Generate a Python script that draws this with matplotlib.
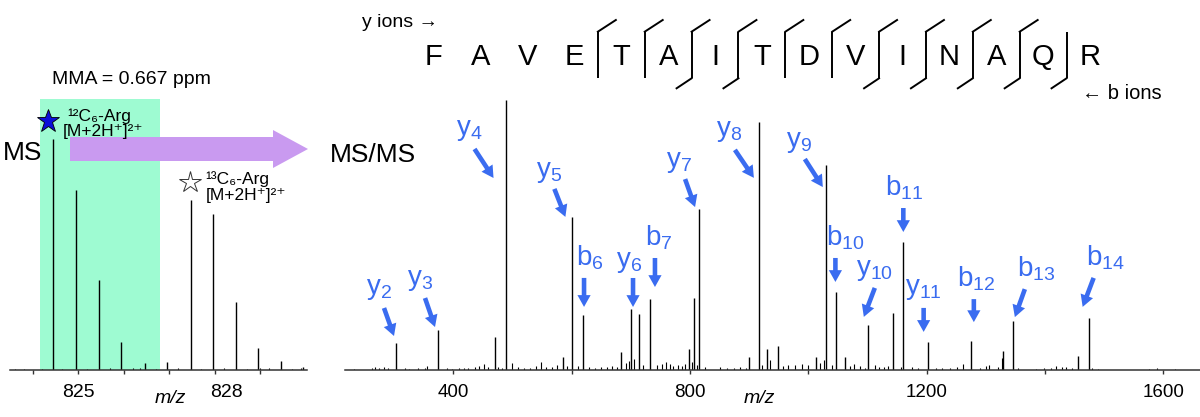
import numpy as np
import matplotlib
matplotlib.use("Agg")
import matplotlib.pyplot as plt
from matplotlib.patches import FancyArrow
from matplotlib.transforms import offset_copy, blended_transform_factory

plt.rcParams['font.family'] = ['Liberation Sans', 'DejaVu Sans']
plt.rcParams['mathtext.fontset'] = 'custom'
plt.rcParams['mathtext.rm'] = 'Liberation Sans'
plt.rcParams['mathtext.it'] = 'Liberation Sans:italic'
plt.rcParams['mathtext.bf'] = 'Liberation Sans:bold'

# ---- MS1: isotope envelopes of the light / heavy Arg peptide (2+) ----
ms1_light_mz = [824.45, 824.95, 825.45, 825.95, 826.46, 826.95]
ms1_light_int = [100, 77.9, 39.0, 12.1, 3.0, 3.3]
ms1_heavy_mz = [827.47, 827.96, 828.46, 828.95, 829.45, 829.95]
ms1_heavy_int = [73.6, 67.5, 29.4, 9.5, 3.9, 1.5]
ms1_noise_mz = [823.6, 823.8, 824.2, 824.65, 825.2, 825.7, 826.2, 826.35, 826.7,
                827.2, 827.7, 828.2, 828.7, 829.0, 829.2, 829.7, 829.9]
ms1_noise_int = [0.6, 0.4, 0.4, 0.5, 0.6, 0.8, 0.7, 0.9, 0.6,
                 0.7, 0.5, 0.8, 0.6, 0.7, 0.8, 0.5, 0.9]

# ---- MS/MS of FAVETAITDVINAQR ----
sequence = "FAVETAITDVINAQR"
y_num = [2, 3, 4, 5, 6, 7, 8, 9, 10, 11]
y_mz = [303.2, 374.2, 488.3, 601.3, 700.4, 815.4, 916.5, 1029.6, 1100.6, 1201.7]
y_int = [10.0, 14.8, 100, 56.7, 22.6, 59.6, 91.9, 75.9, 16.7, 10.4]
b_num = [6, 7, 10, 11, 12, 13, 14]
b_mz = [619.3, 732.4, 1047.5, 1160.6, 1274.7, 1345.7, 1473.8]
b_int = [20.4, 26.3, 28.9, 47.4, 10.7, 18.1, 19.3]
other_mz = [470.8, 585.0, 683.6, 714.0, 798.0, 807.0, 900.0, 930.0, 948.8,
            1012.7, 1062.0, 1143.3, 1329.0, 1456.0]
other_int = [12.2, 4.8, 6.7, 20.7, 7.8, 26.7, 4.8, 7.8, 8.9,
             4.8, 4.8, 21.1, 7.0, 5.2]
noise_mz = [232, 262, 268, 275, 283, 290, 318, 326, 341, 352, 356, 389, 397, 410,
            418, 425, 436, 444, 452, 458, 476, 483, 500, 509, 519, 530, 540, 548,
            556, 566, 575, 592, 610, 630, 640, 650, 660, 668, 676, 692, 697, 706,
            720, 745, 752, 760, 766, 772, 780, 786, 792, 803, 812, 826, 850, 862,
            875, 884, 895, 922, 936, 958, 966, 978, 990, 1000, 1020, 1026, 1040,
            1070, 1078, 1088, 1095, 1112, 1120, 1128, 1135, 1156, 1175, 1185, 1215,
            1226, 1240, 1252, 1262, 1290, 1300, 1306, 1320, 1327, 1355, 1385, 1398,
            1410, 1418, 1428, 1436, 1445, 1480, 1490, 1575, 1590, 1620]
noise_int = [0.3, 0.8, 1.2, 0.7, 1.0, 0.6, 0.8, 0.5, 0.9, 0.6, 1.4, 0.7, 0.5, 0.6,
             0.8, 0.7, 1.0, 1.3, 2.2, 1.0, 1.1, 0.9, 2.6, 1.0, 0.8, 0.7, 1.6, 2.8,
             1.0, 1.2, 2.0, 1.5, 1.6, 1.2, 0.9, 1.0, 1.2, 1.4, 1.0, 2.5, 3.5, 4.0,
             2.0, 1.8, 2.4, 3.0, 2.2, 1.5, 2.0, 1.6, 2.4, 3.0, 2.0, 1.0, 1.2, 0.8,
             0.7, 1.1, 0.9, 2.0, 3.6, 1.5, 2.0, 1.8, 2.4, 1.8, 2.6, 3.8, 2.0,
             1.5, 2.4, 1.4, 0.9, 1.8, 1.0, 1.2, 1.6, 1.2, 1.0, 0.6, 0.8,
             0.7, 0.8, 1.0, 2.2, 0.6, 1.5, 1.8, 1.0, 4.4, 0.8, 0.5, 0.6,
             0.8, 1.3, 1.2, 1.0, 0.7, 0.7, 0.4, 0.5, 0.6, 0.4]

# label placement, pixels relative to peak top: text centre, arrow tail, arrow tip
label_layout = {
    'y2': (-17, 54, -12, 35, -2, 7),
    'y3': (-18, 50, -13, 32, -3, 3),
    'y4': (-36, -30, -31, -49, -12, -78),
    'y5': (-23, 45, -18, 28, -7, 0),
    'b6': (7, 57, 1, 37, 1, 8),
    'y6': (-2, 47, 2, 31, 2, 2),
    'b7': (9, 61, 5, 41, 5, 12),
    'y7': (-20, 47, -14, 30, -4, 2),
    'y8': (-30, -9, -24, -28, -5, -56),
    'y9': (-27, 23, -21, 6, -3, -22),
    'b10': (9, 54, -1, 34, -1, 10),
    'y10': (7, 55, 7, 37, -4, 8),
    'b11': (1, 54, 0, 34, 0, 10),
    'y11': (-4, 53, -4, 34, -4, 10),
    'b12': (5, 62, 3, 42, 3, 19),
    'b13': (23, 52, 12, 32, 2, 4),
    'b14': (17, 60, 5, 40, -6, 11),
}

blue = '#3a6cf0'
fig = plt.figure(figsize=(12, 4.17), dpi=100)

# ---------------- left: MS ----------------
ax1 = fig.add_axes([10 / 1200, 47 / 417, 297 / 1200, 271 / 417])
ax1.axvspan(824.16, 826.79, color='#9efbd2', lw=0, zorder=0)
ax1.vlines(ms1_noise_mz, 0, ms1_noise_int, color='k', lw=0.8)
ax1.vlines(ms1_light_mz, 0, ms1_light_int, color='k', lw=1.0)
ax1.vlines(ms1_heavy_mz, 0, ms1_heavy_int, color='k', lw=1.0)
ax1.set_xlim(823.5, 830.03)
ax1.set_ylim(0, 117.3)
for s in ['top', 'left', 'right']:
    ax1.spines[s].set_visible(False)
ax1.spines['bottom'].set_color('#333333')
ax1.spines['bottom'].set_linewidth(1.1)
ax1.set_yticks([])
ax1.set_xticks(np.arange(824, 830))
ax1.tick_params(axis='x', direction='out', length=3, width=1, colors='#333333',
                labelbottom=False)
tb = blended_transform_factory(ax1.transData, ax1.transAxes)
ax1.text(825, -0.084, '825', transform=tb, ha='center', va='center', fontsize=14)
ax1.text(828, -0.084, '828', transform=offset_copy(tb, fig=fig, x=12, y=0, units='dots'),
         ha='center', va='center', fontsize=14)
ax1.text(0.539, -0.107, 'm/z', transform=ax1.transAxes, ha='center', va='center',
         fontsize=14, style='italic')

# ---------------- right: MS/MS ----------------
ax2 = fig.add_axes([345 / 1200, 47 / 417, 855 / 1200, 275 / 417])
ax2.vlines(noise_mz, 0, noise_int, color='k', lw=0.8)
ax2.vlines(other_mz, 0, other_int, color='k', lw=1.0)
ax2.vlines(y_mz, 0, y_int, color='k', lw=1.0)
ax2.vlines(b_mz, 0, b_int, color='k', lw=1.0)
ax2.set_xlim(217, 1662)
ax2.set_ylim(0, 101.85)
for s in ['top', 'left', 'right']:
    ax2.spines[s].set_visible(False)
ax2.spines['bottom'].set_color('#333333')
ax2.spines['bottom'].set_linewidth(1.1)
ax2.set_yticks([])
ax2.set_xticks([400, 800, 1200, 1600])
ax2.set_xticks([600, 1000, 1400], minor=True)
ax2.tick_params(axis='x', which='both', direction='out', length=3, width=1,
                colors='#333333', labelcolor='black', labelsize=13.5, pad=7)
ax2.text(0.485, -0.102, 'm/z', transform=ax2.transAxes, ha='center', va='center',
         fontsize=14, style='italic')

ions = [('y', n, m, h) for n, m, h in zip(y_num, y_mz, y_int)] + \
       [('b', n, m, h) for n, m, h in zip(b_num, b_mz, b_int)]
for kind, n, m, h in ions:
    tdx, tdy, adx, ady, pdx, pdy = label_layout[f'{kind}{n}']
    ax2.text(m, h, f'{kind}$_{{{n}}}$', color=blue, fontsize=20, ha='center', va='center',
             transform=offset_copy(ax2.transData, fig=fig, x=tdx, y=tdy, units='dots'))
    ax2.annotate('', xy=(m, h), xytext=(m, h),
                 xycoords=offset_copy(ax2.transData, fig=fig, x=pdx, y=pdy, units='dots'),
                 textcoords=offset_copy(ax2.transData, fig=fig, x=adx, y=ady, units='dots'),
                 arrowprops=dict(arrowstyle='simple,head_length=0.85,head_width=0.95,tail_width=0.33',
                                 fc=blue, ec='none', shrinkA=0, shrinkB=0, mutation_scale=10),
                 annotation_clip=False)

# ---------------- overlay in pixel units: arrow, titles, sequence ----------------
ov = fig.add_axes([0, 0, 1, 1])
ov.set_xlim(0, 1200)
ov.set_ylim(417, 0)
ov.axis('off')
ov.add_patch(FancyArrow(70, 149, 238, 0, width=24, head_width=38, head_length=35,
                        length_includes_head=True, color='#c99af0', lw=0))
ov.text(3, 153, 'MS', fontsize=19, ha='left', va='center')
ov.text(330, 155, 'MS/MS', fontsize=19, ha='left', va='center')
ov.text(52, 79, 'MMA = 0.667 ppm', fontsize=14, ha='left', va='center')
ov.text(362, 22, 'y ions \u2192', fontsize=14, ha='left', va='center')
ov.text(1082, 93, '\u2190 b ions', fontsize=14.5, ha='left', va='center')

# stars and precursor labels, anchored on the monoisotopic peaks (drawn above the arrow)
lx, ly = ms1_light_mz[0], ms1_light_int[0]
hx, hy = ms1_heavy_mz[0], ms1_heavy_int[0]
ov.plot(lx, ly, marker='*', ms=17, mfc='#0a10d8', mec='k', mew=0.6, clip_on=False,
        transform=offset_copy(ax1.transData, fig=fig, x=-5, y=18, units='dots'))
ov.plot(hx, hy, marker='*', ms=16, mfc='white', mec='#333333', mew=0.7, clip_on=False,
        transform=offset_copy(ax1.transData, fig=fig, x=-1, y=18, units='dots'))
ion_line = '[M+2H\u207a]\u00b2\u207a'
ov.text(lx, ly, '\u00b9\u00b2C\u2086-Arg', fontsize=12.5, ha='left', va='baseline',
        transform=offset_copy(ax1.transData, fig=fig, x=14.5, y=18, units='dots'))
ov.text(lx, ly, ion_line, fontsize=12.5, ha='left', va='baseline',
        transform=offset_copy(ax1.transData, fig=fig, x=9.7, y=3, units='dots'))
ov.text(hx, hy, '\u00b9\u00b3C\u2086-Arg', fontsize=12.5, ha='left', va='baseline',
        transform=offset_copy(ax1.transData, fig=fig, x=14.5, y=16, units='dots'))
ov.text(hx, hy, ion_line, fontsize=12.5, ha='left', va='baseline',
        transform=offset_copy(ax1.transData, fig=fig, x=15.3, y=0, units='dots'))

letter_x = 433.8 + 46.87 * np.arange(len(sequence))
for x, aa in zip(letter_x, sequence):
    ov.text(x, 57, aa, fontsize=21, ha='center', va='center')
L = len(sequence)
for k in range(1, L):
    has_y = (L - k) in y_num
    has_b = k in b_num
    if not (has_y or has_b):
        continue
    x = (letter_x[k - 1] + letter_x[k]) / 2
    ov.plot([x, x], [31.7, 78.3], color='k', lw=1.4, solid_capstyle='butt')
    if has_y:
        ov.plot([x, x + 18], [31.7, 20], color='k', lw=1.4)
    if has_b:
        ov.plot([x, x - 15], [78.3, 88.3], color='k', lw=1.4)

fig.savefig('out.png', dpi=100)
